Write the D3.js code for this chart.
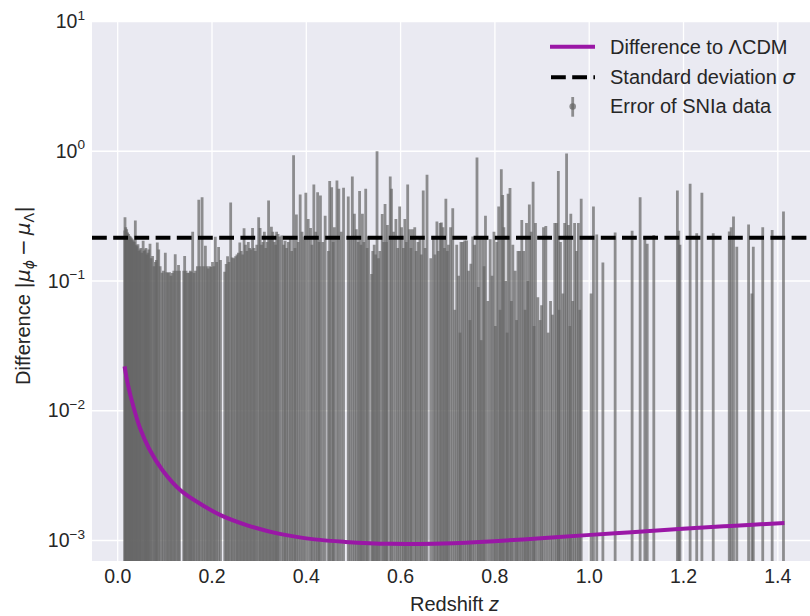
<!DOCTYPE html>
<html><head><meta charset="utf-8">
<script src="https://cdn.jsdelivr.net/npm/d3@7"></script>
<style>
body{margin:0;background:#fff}
text{font-family:"Liberation Sans", Arial, sans-serif; fill:#262626}
</style>
</head><body>
<svg id="c" width="810" height="616"></svg>
<script>
// ---------- data ----------
const xTicks = [0.0, 0.2, 0.4, 0.6, 0.8, 1.0, 1.2, 1.4];
const yTicks = [1e-3, 1e-2, 1e-1, 1e0, 1e1];
const yTickExp = ["\u22123", "\u22122", "\u22121", "0", "1"];

const curveZ    = [0.0146, 0.0212, 0.0335, 0.0477, 0.0666, 0.095, 0.133, 0.18, 0.218, 0.275, 0.341, 0.417, 0.483, 0.578, 0.6726, 0.767, 0.86, 0.995, 1.09, 1.19, 1.30, 1.414];
const curveDiff = [0.0220, 0.0162, 0.0107, 0.0073, 0.0051, 0.00348, 0.00244, 0.00187, 0.00157, 0.00131, 0.00113, 0.00102, 0.000975, 0.000942, 0.000945, 0.000975, 0.00102, 0.00110, 0.00116, 0.001226, 0.001295, 0.001365];

const sigma = 0.215;

// SNIa error bars: [redshift z, error]
const sniaErrors = [
[0.015,0.245],[0.0155,0.31],[0.017,0.26],[0.019,0.25],[0.021,0.237],[0.023,0.23],[0.025,0.223],[0.027,0.22],[0.029,0.215],[0.031,0.21],
[0.033,0.205],[0.035,0.20],[0.0374,0.292],[0.039,0.19],[0.041,0.185],[0.043,0.192],[0.045,0.17],[0.047,0.175],[0.049,0.18],[0.051,0.165],
[0.054,0.204],[0.056,0.17],[0.058,0.175],[0.060,0.18],[0.062,0.16],[0.064,0.165],[0.066,0.175],[0.0685,0.194],[0.071,0.15],[0.074,0.156],
[0.077,0.13],[0.080,0.14],[0.082,0.145],[0.084,0.198],[0.087,0.175],[0.090,0.13],[0.094,0.116],[0.097,0.12],[0.101,0.165],[0.104,0.117],
[0.107,0.116],[0.110,0.117],[0.113,0.11],[0.116,0.115],[0.119,0.12],[0.122,0.161],[0.125,0.12],[0.129,0.133],[0.131,0.12],
[0.140,0.12],[0.142,0.156],[0.145,0.12],[0.148,0.115],[0.151,0.116],[0.154,0.12],[0.156,0.118],[0.159,0.24],[0.162,0.115],[0.165,0.12],
[0.169,0.13],[0.172,0.422],[0.175,0.13],[0.179,0.442],[0.182,0.13],[0.186,0.187],[0.189,0.13],[0.192,0.125],[0.195,0.13],[0.198,0.128],
[0.201,0.14],[0.204,0.13],[0.207,0.219],[0.210,0.14],[0.214,0.183],[0.218,0.145],
[0.227,0.118],[0.230,0.135],[0.233,0.155],[0.236,0.14],[0.2396,0.402],[0.243,0.152],[0.246,0.15],[0.250,0.155],[0.253,0.16],[0.256,0.165],
[0.259,0.198],[0.262,0.17],[0.265,0.16],[0.268,0.255],[0.271,0.19],[0.274,0.17],[0.277,0.20],[0.280,0.18],[0.283,0.175],[0.286,0.256],
[0.289,0.18],[0.292,0.17],[0.295,0.19],[0.299,0.31],[0.302,0.256],[0.305,0.19],[0.308,0.2],[0.311,0.24],[0.314,0.18],[0.317,0.2],
[0.320,0.417],[0.323,0.21],[0.326,0.262],[0.329,0.24],[0.332,0.2],[0.335,0.19],
[0.337,0.24],[0.340,0.23],[0.343,0.22],[0.348,0.224],[0.352,0.19],[0.355,0.204],[0.358,0.18],[0.362,0.20],[0.366,0.22],[0.369,0.17],
[0.373,0.93],[0.376,0.18],[0.379,0.325],[0.383,0.2],[0.387,0.464],[0.391,0.24],[0.395,0.22],[0.399,0.478],[0.404,0.30],[0.409,0.256],
[0.412,0.19],[0.416,0.555],[0.420,0.24],[0.424,0.484],[0.427,0.2],[0.430,0.456],[0.435,0.2],[0.440,0.318],[0.447,0.17],[0.4496,0.589],
[0.4538,0.529],[0.457,0.2],[0.4595,0.26],[0.465,0.596],[0.469,0.513],[0.474,0.24],[0.479,0.523],[0.489,0.448],[0.493,0.22],[0.4976,0.64],
[0.502,0.33],[0.506,0.25],[0.510,0.2],[0.513,0.493],[0.516,0.19],[0.519,0.33],[0.522,0.2],[0.526,0.513],[0.529,0.18],[0.532,0.22],
[0.5385,0.113],[0.541,0.17],[0.544,0.19],[0.547,0.16],[0.55,1.0],[0.553,0.15],[0.556,0.17],[0.561,0.329],[0.564,0.2],[0.567,0.393],
[0.570,0.2],[0.572,0.27],[0.578,0.64],[0.5806,0.513],[0.585,0.24],[0.59,0.30],[0.594,0.18],[0.598,0.375],[0.602,0.26],[0.606,0.18],
[0.609,0.30],[0.612,0.2],[0.615,0.555],[0.619,0.25],[0.622,0.18],[0.625,0.25],[0.630,0.26],[0.633,0.17],[0.637,0.20],[0.641,0.22],
[0.644,0.16],[0.648,0.499],[0.652,0.18],[0.656,0.66],[0.664,0.15],[0.6695,0.22],[0.673,0.16],[0.677,0.288],[0.680,0.17],[0.684,0.28],
[0.6865,0.283],[0.690,0.26],[0.693,0.18],
[0.696,0.43],[0.699,0.17],[0.7015,0.19],[0.706,0.26],[0.7106,0.364],[0.715,0.06],[0.719,0.19],[0.723,0.11],[0.726,0.04],[0.728,0.20],[0.732,0.20],
[0.736,0.205],[0.740,0.205],[0.744,0.12],[0.747,0.05],[0.749,0.136],[0.753,0.22],[0.757,0.19],[0.762,0.894],[0.765,0.09],[0.768,0.215],[0.771,0.035],[0.774,0.215],
[0.777,0.13],[0.780,0.318],[0.785,0.07],[0.790,0.21],[0.794,0.11],[0.798,0.24],[0.801,0.045],[0.804,0.20],[0.808,0.375],[0.811,0.06],[0.8136,0.725],[0.8165,0.46],
[0.819,0.26],[0.823,0.10],[0.826,0.04],[0.828,0.47],[0.832,0.52],[0.835,0.07],[0.838,0.19],[0.843,0.12],[0.846,0.05],[0.849,0.17],[0.853,0.17],[0.857,0.295],[0.861,0.17],
[0.864,0.06],[0.867,0.28],[0.870,0.1],[0.873,0.388],[0.877,0.24],[0.881,0.582],[0.883,0.045],[0.886,0.28],[0.891,0.075],[0.896,0.05],[0.899,0.065],[0.903,0.26],[0.908,0.265],[0.913,0.04],
[0.918,0.07],[0.922,0.055],[0.927,0.28],[0.931,0.28],[0.9345,0.704],[0.936,0.06],[0.939,0.20],[0.944,0.08],[0.948,0.28],[0.952,0.96],[0.956,0.27],
[0.959,0.045],[0.961,0.33],[0.965,0.07],[0.969,0.28],[0.973,0.17],[0.977,0.28],[0.980,0.06],[0.983,0.43],
[1.004,0.08],[1.009,0.375],[1.016,0.228],[1.029,0.139],[1.055,0.236],[1.091,0.244],[1.108,0.443],[1.118,0.217],[1.123,0.194],[1.137,0.226],
[1.187,0.499],[1.19,0.244],[1.1925,0.19],[1.214,0.562],[1.228,0.233],[1.239,0.478],[1.263,0.233],[1.297,0.241],[1.301,0.26],[1.306,0.314],
[1.313,0.184],[1.338,0.272],[1.345,0.08],[1.348,0.184],[1.368,0.259],[1.388,0.247],[1.412,0.343]
];

const legendLabels = ["Difference to \u039BCDM", "Standard deviation ", "Error of SNIa data"];

// ---------- styles ----------
const BG = "#EAEAF2", GRID = "#FFFFFF";
const CURVE_COLOR = "#9A17A6";
const BAR_COLOR = "#646464", BAR_OPACITY = 0.7, BAR_W = 2.8;

// ---------- scales ----------
const L = 92, T = 21.5, R = 817, B = 561;
const x = d3.scaleLinear().domain([-0.0545, 1.4831]).range([L, R]);
const y = d3.scaleLog().domain([Math.pow(10, -3.158), 10]).range([B, T]);

const svg = d3.select("#c");
svg.append("rect").attr("x", L).attr("y", T).attr("width", R - L).attr("height", B - T).attr("fill", BG);

svg.append("defs").append("clipPath").attr("id", "clip")
  .append("rect").attr("x", L).attr("y", T).attr("width", R - L).attr("height", B - T);

// grid
const grid = svg.append("g");
grid.selectAll(".gx").data(xTicks).join("line")
  .attr("x1", d => x(d)).attr("x2", d => x(d)).attr("y1", T).attr("y2", B)
  .attr("stroke", GRID).attr("stroke-width", 1.3);
grid.selectAll(".gy").data(yTicks).join("line")
  .attr("x1", L).attr("x2", R).attr("y1", d => y(d)).attr("y2", d => y(d))
  .attr("stroke", GRID).attr("stroke-width", 1.3);

const plot = svg.append("g").attr("clip-path", "url(#clip)");

// error bars
plot.append("g").selectAll("line").data(sniaErrors).join("line")
  .attr("x1", d => x(d[0])).attr("x2", d => x(d[0]))
  .attr("y1", B + 2).attr("y2", d => y(d[1]))
  .attr("stroke", BAR_COLOR).attr("stroke-opacity", BAR_OPACITY).attr("stroke-width", BAR_W);

// sigma line
plot.append("line").attr("x1", L).attr("x2", R).attr("y1", y(sigma)).attr("y2", y(sigma))
  .attr("stroke", "#000").attr("stroke-width", 4).attr("stroke-dasharray", "14.8 6.4");

// curve
const line = d3.line().x((d, i) => x(curveZ[i])).y(d => y(d)).curve(d3.curveCatmullRom.alpha(0.5));
plot.append("path").datum(curveDiff).attr("d", line)
  .attr("fill", "none").attr("stroke", CURVE_COLOR).attr("stroke-width", 4).attr("stroke-linecap", "butt");

// x tick labels
svg.append("g").selectAll("text").data(xTicks).join("text")
  .attr("x", d => x(d)).attr("y", 583).attr("text-anchor", "middle")
  .style("font-size", "19.5px").text(d => d.toFixed(1));

// y tick labels
const yl = svg.append("g").selectAll("text").data(yTicks).join("text")
  .attr("x", 85).attr("y", d => y(d) + 6.7).attr("text-anchor", "end")
  .style("font-size", "19.5px");
yl.append("tspan").text("10");
yl.append("tspan").attr("dy", -8.5).style("font-size", "13.6px").text((d, i) => yTickExp[i]);

// x label
const xl = svg.append("text").attr("x", 454.5).attr("y", 611).attr("text-anchor", "middle").style("font-size", "20px");
xl.append("tspan").text("Redshift ");
xl.append("tspan").style("font-style", "italic").text("z");

// y label
const ylab = svg.append("text").attr("transform", "translate(30,385) rotate(-90)").attr("text-anchor", "start").style("font-size", "20px");
ylab.append("tspan").text("Difference ");
const M = "'DejaVu Sans', sans-serif";
ylab.append("tspan").style("font-family", M).text("|");
ylab.append("tspan").style("font-family", M).style("font-style", "italic").text("\u03BC");
ylab.append("tspan").style("font-family", M).style("font-style", "italic").style("font-size", "14px").attr("dy", 4).text("\u03D5");
ylab.append("tspan").style("font-family", M).attr("dy", -4).attr("dx", 4).text("\u2212");
ylab.append("tspan").style("font-family", M).style("font-style", "italic").attr("dx", 4).text("\u03BC");
ylab.append("tspan").style("font-family", M).style("font-size", "14px").attr("dy", 4).text("\u039B");
ylab.append("tspan").style("font-family", M).attr("dy", -4).text("|");

// legend
const lg = svg.append("g");
lg.append("line").attr("x1", 550).attr("x2", 595).attr("y1", 46.7).attr("y2", 46.7)
  .attr("stroke", CURVE_COLOR).attr("stroke-width", 4);
lg.append("line").attr("x1", 551).attr("x2", 595).attr("y1", 77.3).attr("y2", 77.3)
  .attr("stroke", "#000").attr("stroke-width", 4).attr("stroke-dasharray", "14.8 6.4");
lg.append("line").attr("x1", 572.7).attr("x2", 572.7).attr("y1", 97).attr("y2", 116.7)
  .attr("stroke", BAR_COLOR).attr("stroke-opacity", BAR_OPACITY).attr("stroke-width", BAR_W);
lg.append("circle").attr("cx", 572.7).attr("cy", 106.5).attr("r", 3.3)
  .attr("fill", BAR_COLOR).attr("fill-opacity", BAR_OPACITY);
const lt = lg.selectAll("text").data(legendLabels).join("text")
  .attr("x", 610).attr("y", (d, i) => [54.3, 84, 113.3][i]).style("font-size", "20px").text(d => d);
lt.filter((d, i) => i === 1).append("tspan").style("font-family", M).style("font-style", "italic").text("\u03C3");
</script>
</body></html>
